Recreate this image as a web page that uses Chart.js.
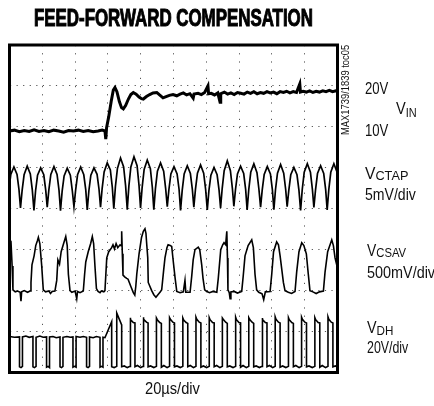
<!DOCTYPE html>
<html>
<head>
<meta charset="utf-8">
<script src="https://cdn.jsdelivr.net/npm/chart.js@4.4.0/dist/chart.umd.min.js"></script>
<style>
  html, body { margin: 0; padding: 0; background: #fff; }
  #wrap { position: relative; width: 434px; height: 406px; overflow: hidden; background: #fff; }
  #c { position: absolute; left: 0; top: 0; }
  .lab { position: absolute; white-space: nowrap; font-family: "Liberation Sans", Arial, sans-serif;
         font-size: 16px; line-height: 16px; color: #111; transform-origin: 0 0; display: inline-block; }
  .sub { font-size: 12px; position: relative; top: 3px; }
  .title { font-weight: bold; font-size: 23px; line-height: 23px; color: #000; -webkit-text-stroke: 1px #000; }
  .rot { font-size: 10px; line-height: 10px; transform-origin: 0 0; }
</style>
</head>
<body>
<div id="wrap">
  <canvas id="c" width="434" height="406"></canvas>
  <div class="lab title" style="left:34px;top:7px" data-w="279">FEED-FORWARD COMPENSATION</div>
  <div class="lab rot" id="rot" style="left:341px;top:135px" data-w="90">MAX1739/1839 toc05</div>
  <div class="lab" style="left:365px;top:81px" data-w="23">20V</div>
  <div class="lab" style="left:396px;top:101px" data-w="21">V<span class="sub">IN</span></div>
  <div class="lab" style="left:365px;top:123px" data-w="23">10V</div>
  <div class="lab" style="left:365px;top:166px" data-w="43">V<span class="sub" style="font-size:13px;top:1px">CTAP</span></div>
  <div class="lab" style="left:365px;top:187px" data-w="51">5mV/div</div>
  <div class="lab" style="left:367px;top:243px" data-w="39">V<span class="sub" style="font-size:13px;top:1px">CSAV</span></div>
  <div class="lab" style="left:367px;top:265px" data-s="0.9">500mV/div</div>
  <div class="lab" style="left:367px;top:320px" data-w="26">V<span class="sub" style="font-size:13px;top:2px">DH</span></div>
  <div class="lab" style="left:367px;top:340px" data-w="41">20V/div</div>
  <div class="lab" style="left:145px;top:381px" data-w="55">20µs/div</div>
</div>
<script>
// ---- axis definitions (oscilloscope: 10 x 8 divisions, 20us/div) ----
const timeTicks = [0, 20, 40, 60, 80, 100, 120, 140, 160, 180, 200]; // us
const divTicks  = [0, 1, 2, 3, 4, 5, 6, 7, 8];                       // vertical divisions

// ---- traces: [time (us), screen position (div from bottom)] ----
const vinTrace = [
 [0,5.90],[3,5.92],[6,5.88],[9,5.91],[12,5.89],[15,5.93],[18,5.89],[21,5.91],[24,5.88],[27,5.92],
 [30,5.90],[33,5.87],[36,5.91],[39,5.90],[42,5.92],[45,5.89],[48,5.91],[51,5.88],[54,5.90],[56.5,5.92],
 [58.2,5.90],[58.7,5.70],[59.2,5.98],[60.5,6.25],[62.0,6.62],[63.3,6.90],[64.3,6.96],[65.5,6.86],[67.0,6.62],
 [68.3,6.47],[69.4,6.44],[70.8,6.52],[72.5,6.68],[74.0,6.79],[75.5,6.84],[77.2,6.80],[79.0,6.73],[80.5,6.69],
 [81.6,6.68],[83.5,6.74],[85.5,6.79],[87.5,6.83],[89.8,6.84],[91.5,6.78],[93.6,6.71],[95.5,6.74],[97.5,6.77],
 [99.7,6.79],[102,6.76],[104,6.80],[106,6.83],[108,6.78],[110,6.81],[112,6.70],[112.5,6.80],[115,6.82],
 [117,6.79],[119,6.84],[121,7.00],[121.4,6.81],[123,6.82],[125,6.78],[127,6.83],[128.4,6.60],[128.8,6.81],
 [131,6.85],[133,6.80],[135,6.83],[137,6.79],[139,6.84],[141,6.82],[143,6.80],[145,6.85],[147,6.82],[149,6.86],
 [151,6.81],[153,6.84],[155,6.82],[157,6.86],[159,6.83],[161,6.85],[163,6.81],[165,6.86],[167,6.84],[169,6.87],
 [171,6.83],[173,6.86],[175,6.84],[177,7.05],[177.4,6.85],[179,6.87],[181,6.85],[183,6.88],[185,6.84],
 [187,6.87],[189,6.85],[191,6.88],[193,6.86],[195,6.89],[197,6.86],[199,6.88],[200,6.87]
];

const ctapTrace = [
 [0,4.58],[0.8,4.84],[2.7,5.02],[4.6,4.84],[5.8,4.46],
 [6.7,4.02],[7.7,4.45],[8.9,4.83],[10.8,5.04],[12.7,4.85],[13.9,4.46],
 [14.9,3.96],[15.9,4.44],[17.1,4.82],[19.0,5.00],[20.9,4.83],[22.1,4.45],
 [23.0,4.04],[24.0,4.46],[25.2,4.84],[27.1,5.03],[29.0,4.84],[30.2,4.45],
 [31.1,3.95],[32.1,4.43],[33.3,4.80],[35.2,4.99],[37.1,4.82],[38.3,4.44],
 [39.3,4.05],[40.3,4.45],[41.5,4.83],[43.4,5.02],[45.3,4.83],[46.5,4.46],
 [47.4,3.97],[48.4,4.44],[49.6,4.82],[51.5,5.00],[53.4,4.84],[54.6,4.47],
 [55.5,4.04],[56.5,4.50],[57.7,4.90],[59.6,5.12],[61.5,4.95],[62.7,4.52],
 [63.6,4.00],[64.6,4.55],[65.8,4.98],[67.7,5.24],[69.6,5.02],[70.8,4.56],
 [71.8,3.98],[72.8,4.56],[74.0,5.02],[75.9,5.27],[77.8,5.05],[79.0,4.56],
 [79.9,4.02],[80.9,4.53],[82.1,4.96],[84.0,5.19],[85.9,4.98],[87.1,4.52],
 [88.0,3.98],[89.0,4.50],[90.2,4.92],[92.1,5.12],[94.0,4.92],[95.2,4.50],
 [96.2,4.05],[97.2,4.47],[98.4,4.85],[100.3,5.03],[102.2,4.85],[103.4,4.47],
 [104.3,3.96],[105.3,4.45],[106.5,4.85],[108.4,5.05],[110.3,4.86],[111.5,4.47],
 [112.4,4.04],[113.4,4.48],[114.6,4.87],[116.5,5.07],[118.4,4.87],[119.6,4.47],
 [120.6,3.97],[121.6,4.45],[122.8,4.82],[124.7,5.01],[126.6,4.83],[127.8,4.45],
 [128.7,4.02],[129.7,4.50],[130.9,4.93],[132.8,5.17],[134.7,4.93],[135.9,4.50],
 [136.8,4.06],[137.8,4.47],[139.0,4.85],[140.9,5.04],[142.8,4.86],[144.0,4.47],
 [144.9,3.97],[145.9,4.47],[147.1,4.89],[149.0,5.10],[150.9,4.88],[152.1,4.47],
 [153.1,4.04],[154.1,4.46],[155.3,4.84],[157.2,5.03],[159.1,4.85],[160.3,4.46],
 [161.2,3.98],[162.2,4.47],[163.4,4.87],[165.3,5.08],[167.2,4.87],[168.4,4.47],
 [169.3,4.05],[170.3,4.45],[171.5,4.83],[173.4,5.01],[175.3,4.83],[176.5,4.45],
 [177.5,3.96],[178.5,4.47],[179.7,4.89],[181.6,5.10],[183.5,4.89],[184.7,4.47],
 [185.6,4.03],[186.6,4.46],[187.8,4.86],[189.7,5.05],[191.6,4.86],[192.8,4.46],
 [193.7,3.97],[194.7,4.47],[195.9,4.89],[197.8,5.10],[199.7,4.90],[200,4.85]
];

const csavTrace = [
 [0,3.25],[0.9,3.20],[1.6,2.60],[2.1,2.02],[3.5,1.97],[5,1.99],[6.5,1.96],[7.0,1.74],[7.4,1.97],[9,2.00],
 [11,1.96],[12.5,1.99],[13.1,2.20],[13.7,2.63],[15,2.85],[16,3.10],[17,3.22],[17.6,3.30],[18.5,3.15],[19.6,2.63],
 [20.6,2.02],[22,1.97],[24,1.99],[25,1.93],[26,1.98],[27.7,1.99],[28.8,2.25],[29.5,2.75],[30.5,2.65],[31.5,2.95],
 [33,3.15],[34.3,3.32],[35.2,3.10],[35.9,2.40],[36.9,2.00],[38,1.96],[40,1.99],[41,1.80],[41.5,1.98],[43,1.95],
 [45,1.99],[45.8,2.40],[46.5,2.70],[48,2.95],[49.5,3.15],[50.5,3.32],[51.3,3.15],[52.1,2.60],[53,2.05],[54,1.98],
 [55.2,1.95],[56,1.99],[57.5,1.97],[58.2,2.00],[59.3,2.80],[60.5,2.95],[62.3,3.05],[63.1,3.12],[64,3.02],[65,3.15],
 [66,3.05],[67.4,3.12],[68,3.10],[68.4,3.45],[68.8,2.90],[69.2,2.38],[70.4,2.33],[71.5,2.30],[72.3,2.28],[74,2.10],
 [75.5,1.95],[76.4,1.89],[77,2.10],[77.6,2.40],[79,2.90],[80.5,3.30],[81.6,3.45],[82.6,3.51],[83.2,3.40],[83.7,3.12],
 [84.3,2.80],[84.6,2.20],[86.7,2.00],[88,1.90],[89.3,1.84],[90.5,1.90],[92,1.97],[92.8,2.02],[94,2.50],[94.8,2.80],
 [96,3.05],[96.7,3.12],[98,3.10],[98.9,3.08],[99.9,2.70],[101,2.30],[102,1.98],[104,1.95],[106,1.97],[107,2.25],
 [107.5,1.96],[110.1,1.96],[111.1,2.35],[112,2.75],[113.1,3.00],[115.1,3.06],[116,3.00],[117.2,2.63],[118,2.30],[119,2.02],
 [120.3,1.98],[122,1.95],[124,1.98],[126.4,1.96],[127.3,2.30],[128.8,3.00],[130,3.12],[130.8,3.17],[131.8,3.12],[132.5,3.45],
 [132.9,2.80],[133.2,2.02],[134,1.95],[134.5,1.80],[135,1.97],[137,1.98],[139,1.94],[141.6,1.98],[142.5,2.35],[143.6,2.85],
 [145.5,3.10],[147.7,3.24],[148.7,3.05],[149.7,2.40],[150.7,2.02],[152,1.96],[154,1.92],[155,1.78],[156,1.97],[158.9,1.98],
 [159.9,2.40],[161,2.95],[162.9,3.19],[164,3.12],[165,2.85],[167,2.20],[168,2.00],[170,1.96],[172,1.93],[174.1,1.98],
 [175.1,2.45],[176.5,2.95],[178.2,3.17],[179.5,3.10],[181,2.90],[182.2,2.40],[183.2,2.00],[185,1.97],[187,1.93],[189,1.97],
 [191.4,1.99],[192.4,2.45],[194,2.95],[196.5,3.24],[197.5,3.10],[198.5,2.80],[200,2.55]
];

const dhTrace = [
 [0,0.88],[3,0.86],[6.1,0.87],[6.1,0.14],[7,0.12],[7.9,0.15],[7.9,0.87],[10,0.89],[12,0.86],
 [14.3,0.88],[14.3,0.14],[15.2,0.12],[16.2,0.15],[16.2,0.86],[18.5,0.89],[20.5,0.86],
 [22.6,0.87],[22.6,0.13],[23.5,0.15],[24.4,0.12],[24.4,0.87],[26.5,0.88],[28.5,0.85],
 [30.8,0.87],[30.8,0.14],[31.7,0.12],[32.6,0.15],[32.6,0.86],[35,0.88],[37,0.86],
 [38.7,0.87],[38.7,0.13],[39.6,0.15],[40.6,0.13],[40.6,0.88],[43,0.86],[45,0.88],
 [47,0.86],[47,0.14],[47.9,0.12],[48.8,0.15],[48.8,0.87],[51,0.85],[53,0.88],
 [55.2,0.86],[55.2,0.13],[56.1,0.15],[57,0.13],[57,0.86],[58.2,0.85],[60.3,1.05],[62.3,1.24],
 [62.3,0.14],[63.8,0.12],[65.4,0.15],[65.4,1.45],[68.4,1.16],[68.4,0.14],[70,0.16],[71.8,0.12],
 [73.5,0.15],[73.5,1.34],[74.0,1.29],[75.5,1.22],[76.5,1.21],[76.5,0.14],[78.0,0.17],[80.0,0.12],
 [81.5,0.15],[81.5,1.35],[82.0,1.30],[83.5,1.23],[84.5,1.21],[84.5,0.14],[86.0,0.16],[88.0,0.12],
 [89.6,0.15],[89.6,1.33],[90.1,1.29],[91.6,1.22],[92.6,1.20],[92.6,0.13],[94.1,0.17],[96.1,0.12],
 [97.6,0.15],[97.6,1.34],[98.1,1.30],[99.6,1.23],[100.6,1.21],[100.6,0.14],[102.1,0.16],[104.1,0.12],
 [105.7,0.15],[105.7,1.33],[106.2,1.28],[107.7,1.22],[108.7,1.20],[108.7,0.14],[110.2,0.17],[112.2,0.12],
 [113.7,0.15],[113.7,1.35],[114.2,1.30],[115.7,1.23],[116.7,1.21],[116.7,0.13],[118.2,0.16],[120.2,0.12],
 [121.8,0.15],[121.8,1.34],[122.3,1.29],[123.8,1.22],[124.8,1.21],[124.8,0.14],[126.3,0.17],[128.3,0.12],
 [129.8,0.15],[129.8,1.33],[130.3,1.30],[131.8,1.23],[132.8,1.20],[132.8,0.14],[134.3,0.16],[136.3,0.12],
 [137.9,0.15],[137.9,1.35],[138.4,1.29],[139.9,1.22],[140.9,1.21],[140.9,0.13],[142.4,0.17],[144.4,0.12],
 [145.9,0.15],[145.9,1.34],[146.4,1.30],[147.9,1.23],[148.9,1.20],[148.9,0.14],[150.4,0.16],[152.4,0.12],
 [154.0,0.15],[154.0,1.33],[154.5,1.29],[156.0,1.22],[157.0,1.21],[157.0,0.14],[158.5,0.17],[160.5,0.12],
 [162.0,0.15],[162.0,1.36],[162.5,1.30],[164.0,1.23],[165.0,1.21],[165.0,0.13],[166.5,0.16],[168.5,0.12],
 [170.1,0.15],[170.1,1.34],[170.6,1.29],[172.1,1.22],[173.1,1.20],[173.1,0.14],[174.6,0.17],[176.6,0.12],
 [178.1,0.15],[178.1,1.35],[178.6,1.30],[180.1,1.23],[181.1,1.21],[181.1,0.14],[182.6,0.16],[184.6,0.12],
 [186.2,0.15],[186.2,1.34],[186.7,1.29],[188.2,1.22],[189.2,1.21],[189.2,0.13],[190.7,0.17],[192.7,0.12],
 [194.2,0.15],[194.2,1.36],[194.7,1.30],[196.2,1.23],[197.2,1.21],[197.2,0.14],[198.7,0.16],[200,0.13]
];

const traceNames = ['VIN', 'VCTAP', 'VCSAV', 'VDH'];

// ---- fit label widths ----
document.querySelectorAll('.lab').forEach(el => {
  const w = el.offsetWidth;
  let s = 0.82;
  if (el.dataset.w) s = parseFloat(el.dataset.w) / w;
  if (el.dataset.s) s = parseFloat(el.dataset.s);
  if (el.id === 'rot') el.style.transform = 'rotate(-90deg) scaleX(' + s + ')';
  else el.style.transform = 'scaleX(' + s + ')';
});

const toXY = arr => arr.map(p => ({x: p[0], y: p[1]}));

const framePlugin = {
  id: 'frame',
  afterDraw(chart) {
    const {ctx, chartArea: a} = chart;
    ctx.save();
    ctx.strokeStyle = '#000';
    ctx.lineWidth = 3;
    ctx.strokeRect(a.left, a.top, a.right - a.left, a.bottom - a.top);
    ctx.restore();
  }
};

const traces = [vinTrace, ctapTrace, csavTrace, dhTrace];
const widths = [3, 1.7, 1.6, 1.6];

new Chart(document.getElementById('c'), {
  type: 'line',
  data: {
    datasets: traces.map((t, i) => ({
      label: traceNames[i],
      data: toXY(t),
      borderColor: '#000',
      borderWidth: widths[i],
      pointRadius: 0,
      tension: 0,
      fill: false
    }))
  },
  options: {
    responsive: false,
    animation: false,
    devicePixelRatio: 1,
    layout: { padding: { left: 9.5, top: 45, right: 96.5, bottom: 33.5 } },
    plugins: { legend: { display: false }, tooltip: { enabled: false }, title: { display: false } },
    scales: {
      x: {
        type: 'linear', min: timeTicks[0], max: timeTicks[timeTicks.length - 1],
        afterBuildTicks: ax => { ax.ticks = timeTicks.map(v => ({value: v})); },
        ticks: { display: false },
        border: { display: false, dash: [1.2, 7.0] },
        grid: { drawTicks: false, color: '#555', lineWidth: 1 }
      },
      y: {
        type: 'linear', min: divTicks[0], max: divTicks[divTicks.length - 1],
        afterBuildTicks: ax => { ax.ticks = divTicks.map(v => ({value: v})); },
        ticks: { display: false },
        border: { display: false, dash: [1.2, 5.36] },
        grid: { drawTicks: false, color: '#555', lineWidth: 1 }
      }
    }
  },
  plugins: [framePlugin]
});
</script>
</body>
</html>
